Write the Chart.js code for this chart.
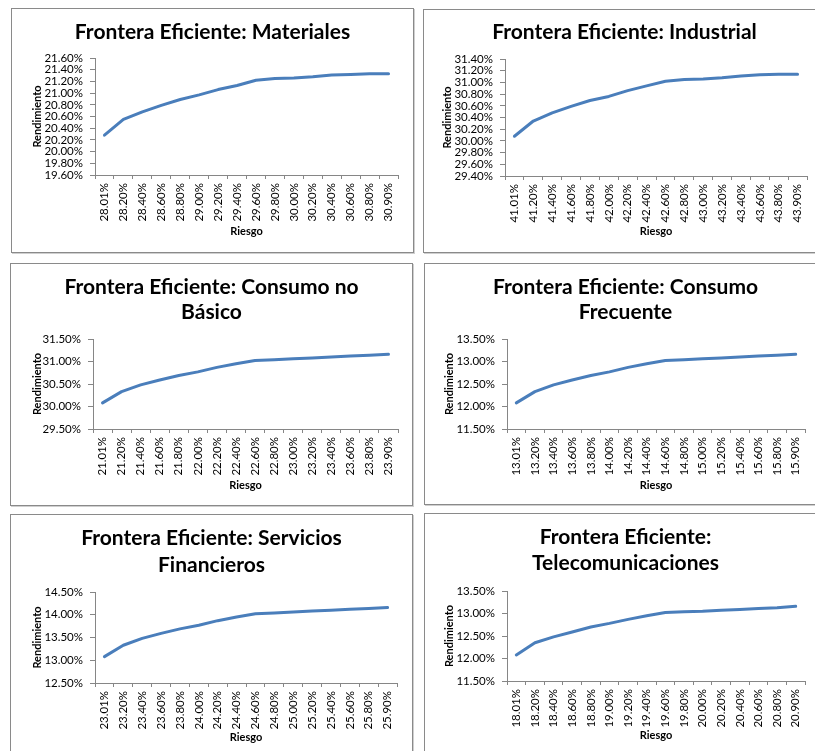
<!DOCTYPE html>
<html>
<head>
<meta charset="utf-8">
<script src="https://cdn.jsdelivr.net/npm/chart.js@4/dist/chart.umd.min.js"></script>
<style>
  html, body { margin: 0; padding: 0; background: #fff; }
  body { position: relative; width: 815px; height: 751px; overflow: hidden; }
  .panel { position: absolute; box-sizing: border-box; border: 1px solid #8a8a8a;
           box-shadow: 1px 1px 0 #cfcfcf; background: #fff; }
  .panel canvas { position: absolute; left: 0; top: 0; }
</style>
</head>
<body>
<script>
// Riesgo (categorías del eje X) y rendimiento esperado (%) por sector
const riesgoMateriales = ['28.01%','28.20%','28.40%','28.60%','28.80%','29.00%','29.20%','29.40%',
                          '29.60%','29.80%','30.00%','30.20%','30.40%','30.60%','30.80%','30.90%'];
const rendMateriales   = [20.28, 20.55, 20.68, 20.79, 20.89, 20.97, 21.06, 21.13,
                          21.22, 21.25, 21.26, 21.28, 21.31, 21.32, 21.33, 21.33];

const riesgoIndustrial = ['41.01%','41.20%','41.40%','41.60%','41.80%','42.00%','42.20%','42.40%',
                          '42.60%','42.80%','43.00%','43.20%','43.40%','43.60%','43.80%','43.90%'];
const rendIndustrial   = [30.08, 30.34, 30.48, 30.59, 30.69, 30.76, 30.86, 30.94,
                          31.02, 31.05, 31.06, 31.08, 31.11, 31.13, 31.14, 31.14];

const riesgoNoBasico   = ['21.01%','21.20%','21.40%','21.60%','21.80%','22.00%','22.20%','22.40%',
                          '22.60%','22.80%','23.00%','23.20%','23.40%','23.60%','23.80%','23.90%'];
const rendNoBasico     = [30.08, 30.33, 30.48, 30.59, 30.69, 30.77, 30.87, 30.95,
                          31.02, 31.04, 31.06, 31.08, 31.10, 31.12, 31.14, 31.16];

const riesgoFrecuente  = ['13.01%','13.20%','13.40%','13.60%','13.80%','14.00%','14.20%','14.40%',
                          '14.60%','14.80%','15.00%','15.20%','15.40%','15.60%','15.80%','15.90%'];
const rendFrecuente    = [12.08, 12.33, 12.48, 12.59, 12.69, 12.77, 12.87, 12.95,
                          13.02, 13.04, 13.06, 13.08, 13.10, 13.12, 13.14, 13.16];

const riesgoFinancieros = ['23.01%','23.20%','23.40%','23.60%','23.80%','24.00%','24.20%','24.40%',
                           '24.60%','24.80%','25.00%','25.20%','25.40%','25.60%','25.80%','25.90%'];
const rendFinancieros   = [13.08, 13.33, 13.48, 13.59, 13.69, 13.77, 13.87, 13.95,
                           14.02, 14.04, 14.06, 14.08, 14.10, 14.12, 14.14, 14.16];

const riesgoTelecom    = ['18.01%','18.20%','18.40%','18.60%','18.80%','19.00%','19.20%','19.40%',
                          '19.60%','19.80%','20.00%','20.20%','20.40%','20.60%','20.80%','20.90%'];
const rendTelecom      = [12.08, 12.35, 12.48, 12.59, 12.70, 12.78, 12.87, 12.95,
                          13.02, 13.04, 13.05, 13.07, 13.09, 13.11, 13.13, 13.16];

// Escalas del eje Y: [mínimo, máximo, paso]
const ejeMateriales  = [19.6, 21.6, 0.2];
const ejeIndustrial  = [29.4, 31.4, 0.2];
const ejeNoBasico    = [29.5, 31.5, 0.5];
const ejeFrecuente   = [11.5, 13.5, 0.5];
const ejeFinancieros = [12.5, 14.5, 0.5];
const ejeTelecom     = [11.5, 13.5, 0.5];

// Títulos de cada gráfico
const tituloMateriales  = ['Frontera Eficiente: Materiales'];
const tituloIndustrial  = ['Frontera Eficiente: Industrial'];
const tituloNoBasico    = ['Frontera Eficiente: Consumo no', 'Básico'];
const tituloFrecuente   = ['Frontera Eficiente: Consumo', 'Frecuente'];
const tituloFinancieros = ['Frontera Eficiente: Servicios', 'Financieros'];
const tituloTelecom     = ['Frontera Eficiente:', 'Telecomunicaciones'];

// Disposición en página: caja del panel, área de trazado y posición de los títulos
const paneles = [
  { titulo: tituloMateriales, riesgo: riesgoMateriales, rend: rendMateriales, eje: ejeMateriales,
    caja: [11, 8, 403, 245], area: [95, 58, 398, 175], tituloY: 32, lh: 22, ejeYx: 37, ejeXy: 231 },
  { titulo: tituloIndustrial, riesgo: riesgoIndustrial, rend: rendIndustrial, eje: ejeIndustrial,
    caja: [423, 9, 403, 244], area: [505, 59, 807, 176], tituloY: 32, lh: 22, ejeYx: 447, ejeXy: 231 },
  { titulo: tituloNoBasico, riesgo: riesgoNoBasico, rend: rendNoBasico, eje: ejeNoBasico,
    caja: [10, 263, 403, 243], area: [93, 339, 398, 429], tituloY: 287, lh: 25, ejeYx: 37, ejeXy: 485 },
  { titulo: tituloFrecuente, riesgo: riesgoFrecuente, rend: rendFrecuente, eje: ejeFrecuente,
    caja: [424, 263, 403, 242], area: [507, 339, 805, 429], tituloY: 287, lh: 25, ejeYx: 449, ejeXy: 485 },
  { titulo: tituloFinancieros, riesgo: riesgoFinancieros, rend: rendFinancieros, eje: ejeFinancieros,
    caja: [10, 514, 403, 245], area: [95, 592, 397, 683], tituloY: 538, lh: 27, ejeYx: 37, ejeXy: 737 },
  { titulo: tituloTelecom, riesgo: riesgoTelecom, rend: rendTelecom, eje: ejeTelecom,
    caja: [424, 513, 403, 245], area: [507, 591, 805, 681], tituloY: 537, lh: 26, ejeYx: 449, ejeXy: 735 }
];

Chart.defaults.font.family = 'Lato, "Open Sans", sans-serif';
Chart.defaults.color = '#000';

const GRIS_EJE = '#868686';
const AZUL = '#4a7ebb';
const TAM_EJE = 11;                 // tamaño de los títulos de eje
const LH_EJE = TAM_EJE * 1.2;       // alto de línea de los títulos de eje

paneles.forEach(p => {
  const [bx, by, bw, bh] = p.caja;
  const div = document.createElement('div');
  div.className = 'panel';
  Object.assign(div.style, { left: bx + 'px', top: by + 'px', width: bw + 'px', height: bh + 'px' });
  const cv = document.createElement('canvas');
  const cw = bw - 2, ch = bh - 2;
  cv.width = cw; cv.height = ch;
  cv.style.width = cw + 'px'; cv.style.height = ch + 'px';
  div.appendChild(cv);
  document.body.appendChild(div);

  const ox = bx + 1, oy = by + 1;           // origen del lienzo en la página
  const [al, at, ar, ab] = p.area;
  const anchoEjeY = al - ox;
  const altoEjeX = ch - (ab - oy);
  const margenDer = cw - (ar - ox);
  const n = p.titulo.length;
  const tPadTop = (p.tituloY - oy) - p.lh / 2;
  const tPadBottom = (at - oy) - tPadTop - n * p.lh;
  const yTitlePad = (p.ejeYx - ox) - LH_EJE / 2;
  const xTitlePad = ch - (p.ejeXy - oy) - LH_EJE / 2;

  new Chart(cv, {
    type: 'line',
    data: {
      labels: p.riesgo,
      datasets: [{
        data: p.rend,
        borderColor: AZUL,
        borderWidth: 3,
        pointRadius: 0,
        pointHoverRadius: 0,
        fill: false,
        tension: 0,
        borderJoinStyle: 'round',
        borderCapStyle: 'round'
      }]
    },
    options: {
      responsive: false,
      animation: false,
      devicePixelRatio: 1,
      layout: { padding: 0 },
      plugins: {
        legend: { display: false },
        tooltip: { enabled: false },
        title: {
          display: true,
          text: p.titulo,
          color: '#000',
          font: { size: 21, weight: 'bold', lineHeight: p.lh + 'px' },
          padding: { top: tPadTop, bottom: tPadBottom }
        }
      },
      scales: {
        x: {
          type: 'category',
          offset: true,
          border: { display: true, color: GRIS_EJE, width: 1 },
          grid: { display: true, offset: true, drawOnChartArea: false, drawTicks: true,
                  tickLength: 4, color: GRIS_EJE },
          ticks: { autoSkip: false, minRotation: 90, maxRotation: 90, padding: 4,
                   font: { size: 11.5 }, color: '#000' },
          title: { display: true, text: 'Riesgo', font: { size: TAM_EJE, weight: 'bold', lineHeight: 1.2 },
                   color: '#000', padding: { top: 0, bottom: xTitlePad } },
          afterFit: s => { s.height = altoEjeX; s.paddingRight = margenDer; }
        },
        y: {
          min: p.eje[0],
          max: p.eje[1],
          border: { display: true, color: GRIS_EJE, width: 1 },
          grid: { display: true, drawOnChartArea: false, drawTicks: true, tickLength: 5, color: GRIS_EJE },
          ticks: { autoSkip: false, stepSize: p.eje[2], padding: 7, font: { size: 11.5 }, color: '#000',
                   callback: v => Number(v).toFixed(2) + '%' },
          title: { display: true, text: 'Rendimiento', font: { size: TAM_EJE, weight: 'bold', lineHeight: 1.2 },
                   color: '#000', padding: { top: yTitlePad, bottom: 0 } },
          afterFit: s => { s.width = anchoEjeY; }
        }
      }
    }
  });
});
</script>
</body>
</html>
